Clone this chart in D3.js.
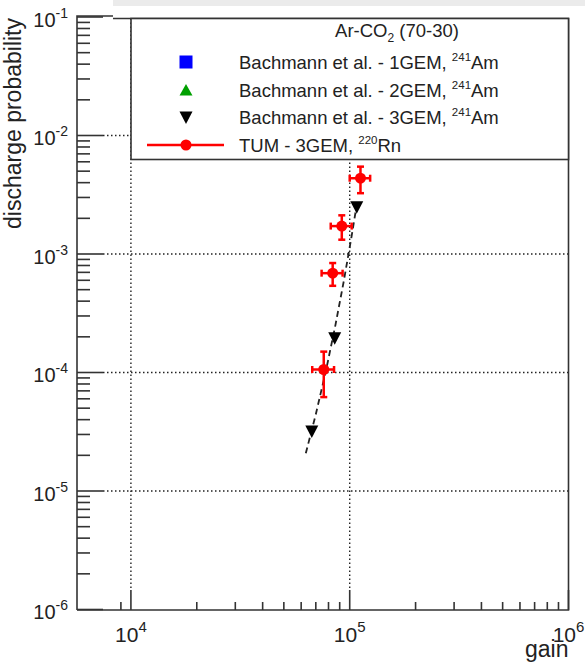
<!DOCTYPE html>
<html><head><meta charset="utf-8">
<script src="https://cdn.jsdelivr.net/npm/d3@7"></script>
<style>body{margin:0;background:#fff}svg{display:block;font-family:"Liberation Sans",Arial,sans-serif}</style>
</head><body><svg id="c" width="585" height="664"></svg>
<script>
// ---- data ----
const xDomain = [5670, 1e6];
const yDomain = [1e-6, 1e-1];
const xMajorTicks = [1e4, 1e5, 1e6];
const xTickExponents = ["4", "5", "6"];
const yMajorTicks = [1e-6, 1e-5, 1e-4, 1e-3, 1e-2, 1e-1];
const yTickExponents = ["-6", "-5", "-4", "-3", "-2", "-1"];
const gridX = [1e4, 1e5];
const gridY = [1e-5, 1e-4, 1e-3, 1e-2];

const tumGain = [112000, 92000, 83600, 76100];
const tumGainErr = [12000, 10100, 9200, 8700];
const tumProb = [4.36e-3, 1.72e-3, 6.89e-4, 1.06e-4];
const tumProbErr = [1.1e-3, 0.4e-3, 1.5e-4, 4.4e-5];

const bach1Gain = [], bach1Prob = [];
const bach2Gain = [], bach2Prob = [];
const bach3Gain = [107700, 85400, 67100];
const bach3Prob = [2.48e-3, 1.95e-4, 3.18e-5];

const fitGain = [63000, 70000, 78000, 86000, 94000, 102000, 107600];
const fitProb = [2.08e-5, 4.44e-5, 1.05e-4, 2.50e-4, 5.93e-4, 1.41e-3, 2.58e-3];

const legendHeader = "Ar-CO";
const legendEntries = [
  {label: "Bachmann et al. - 1GEM, ", iso: "241", el: "Am", kind: "square", color: "#0000ff"},
  {label: "Bachmann et al. - 2GEM, ", iso: "241", el: "Am", kind: "up", color: "#00a000"},
  {label: "Bachmann et al. - 3GEM, ", iso: "241", el: "Am", kind: "down", color: "#000000"},
  {label: "TUM - 3GEM, ", iso: "220", el: "Rn", kind: "tum", color: "#ff0000"}
];

// ---- layout ----
const L = 77, R = 568.5, T = 18.5, B = 610;
const svg = d3.select("#c");
const x = d3.scaleLog().domain(xDomain).range([L, R]);
const y = d3.scaleLog().domain(yDomain).range([B - 0.5, 17]);
const axisCol = "#333";

// grey top strip
svg.append("rect").attr("x", 113).attr("y", 0).attr("width", 472).attr("height", 6).attr("fill", "#ebebeb");

// grid
const g = svg.append("g").attr("stroke", "#222").attr("stroke-width", 1.4).attr("stroke-dasharray", "1.5,2.5");
gridX.forEach(v => g.append("line").attr("x1", x(v)).attr("x2", x(v)).attr("y1", T).attr("y2", B - 20));
gridY.forEach(v => g.append("line").attr("x1", L + 26).attr("x2", R).attr("y1", y(v)).attr("y2", y(v)));

// frame
const f = svg.append("g").attr("stroke", axisCol).attr("stroke-width", 1.6).attr("fill", "none");
f.append("path").attr("d", `M${L},${B} L${L},16 L113,16`);
f.append("path").attr("d", `M113,${T} L${R},${T} L${R},${B} L${L},${B}`);

// y ticks
y.ticks().forEach(v => {
  const major = Math.abs(Math.log10(v) - Math.round(Math.log10(v))) < 1e-6;
  f.append("line").attr("x1", L).attr("x2", L + (major ? 26 : 13)).attr("y1", y(v)).attr("y2", y(v));
});
// x ticks
x.ticks().forEach(v => {
  const px = x(v);
  if (px < 113) return;
  const major = Math.abs(Math.log10(v) - Math.round(Math.log10(v))) < 1e-6;
  f.append("line").attr("x1", px).attr("x2", px).attr("y1", B).attr("y2", B - (major ? 20 : 8));
});

// tick labels
const lab = svg.append("g").attr("fill", "#222");
yMajorTicks.forEach((v, i) => {
  const t = lab.append("text").attr("x", 68).attr("y", y(v) + 9.5).attr("text-anchor", "end").attr("font-size", 20);
  t.append("tspan").text("10");
  t.append("tspan").attr("font-size", 14).attr("dy", -9).text(yTickExponents[i]);
});
xMajorTicks.forEach((v, i) => {
  const t = lab.append("text").attr("x", x(v)).attr("y", 642).attr("text-anchor", "middle").attr("font-size", 21);
  t.append("tspan").text("10");
  t.append("tspan").attr("font-size", 15).attr("dy", -10).text(xTickExponents[i]);
});
// axis titles
lab.append("text").attr("x", R).attr("y", 657).attr("text-anchor", "end").attr("font-size", 23).text("gain");
lab.append("text").attr("transform", "translate(21,18) rotate(-90)").attr("text-anchor", "end").attr("font-size", 23).text("discharge probability");

// legend
const lg = svg.append("g");
lg.append("rect").attr("x", 131).attr("y", T).attr("width", R - 131).attr("height", 159.5 - T)
  .attr("fill", "#fff").attr("stroke", axisCol).attr("stroke-width", 1.6);
const ht = lg.append("text").attr("x", 397).attr("y", 37).attr("text-anchor", "middle").attr("font-size", 18.5).attr("fill", "#222");
ht.append("tspan").text(legendHeader);
ht.append("tspan").attr("font-size", 12).attr("dy", 5).text("2");
ht.append("tspan").attr("dy", -5).text(" (70-30)");

function marker(sel, kind, cx, cy, color) {
  if (kind === "square") sel.append("rect").attr("x", cx - 6.5).attr("y", cy - 6.5).attr("width", 13).attr("height", 13).attr("fill", color);
  else if (kind === "up") sel.append("path").attr("d", `M${cx - 6.5},${cy + 5.5} L${cx + 6.5},${cy + 5.5} L${cx},${cy - 6} Z`).attr("fill", color);
  else if (kind === "down") sel.append("path").attr("d", `M${cx - 6.5},${cy - 6} L${cx + 6.5},${cy - 6} L${cx},${cy + 6.5} Z`).attr("fill", color);
  else sel.append("circle").attr("cx", cx).attr("cy", cy).attr("r", 5.5).attr("fill", color);
}
const rowY = [62, 90, 117.5, 145];
legendEntries.forEach((e, i) => {
  const cy = rowY[i];
  if (e.kind === "tum") lg.append("line").attr("x1", 147).attr("x2", 224).attr("y1", cy).attr("y2", cy).attr("stroke", e.color).attr("stroke-width", 2.5);
  marker(lg, e.kind, 186, cy, e.color);
  const t = lg.append("text").attr("x", 239).attr("y", cy + 6.5).attr("font-size", 18.5).attr("fill", "#222");
  t.append("tspan").text(e.label);
  t.append("tspan").attr("font-size", 11.5).attr("dy", -8).text(e.iso);
  t.append("tspan").attr("dy", 8).text(e.el);
});

// fit line
svg.append("path").datum(fitGain.map((v, i) => [v, fitProb[i]]))
  .attr("d", d3.line().x(d => x(d[0])).y(d => y(d[1])))
  .attr("fill", "none").attr("stroke", "#222").attr("stroke-width", 1.8).attr("stroke-dasharray", "6,4");

// Bachmann markers
const dm = svg.append("g");
bach1Gain.forEach((v, i) => marker(dm, "square", x(v), y(bach1Prob[i]), "#0000ff"));
bach2Gain.forEach((v, i) => marker(dm, "up", x(v), y(bach2Prob[i]), "#00a000"));
bach3Gain.forEach((v, i) => marker(dm, "down", x(v), y(bach3Prob[i]), "#000"));

// TUM points with error bars
const tg = svg.append("g").attr("stroke", "#ff0000").attr("stroke-width", 2.5);
tumGain.forEach((v, i) => {
  const cx = x(v), cy = y(tumProb[i]);
  const x0 = x(v - tumGainErr[i]), x1 = x(v + tumGainErr[i]);
  const y0 = y(tumProb[i] + tumProbErr[i]), y1 = y(tumProb[i] - tumProbErr[i]);
  tg.append("line").attr("x1", x0).attr("x2", x1).attr("y1", cy).attr("y2", cy);
  tg.append("line").attr("x1", cx).attr("x2", cx).attr("y1", y0).attr("y2", y1);
  tg.append("line").attr("x1", x0).attr("x2", x0).attr("y1", cy - 3.5).attr("y2", cy + 3.5);
  tg.append("line").attr("x1", x1).attr("x2", x1).attr("y1", cy - 3.5).attr("y2", cy + 3.5);
  tg.append("line").attr("x1", cx - 3.5).attr("x2", cx + 3.5).attr("y1", y0).attr("y2", y0);
  tg.append("line").attr("x1", cx - 3.5).attr("x2", cx + 3.5).attr("y1", y1).attr("y2", y1);
  marker(svg, "circle", cx, cy, "#ff0000");
});
</script></body></html>
